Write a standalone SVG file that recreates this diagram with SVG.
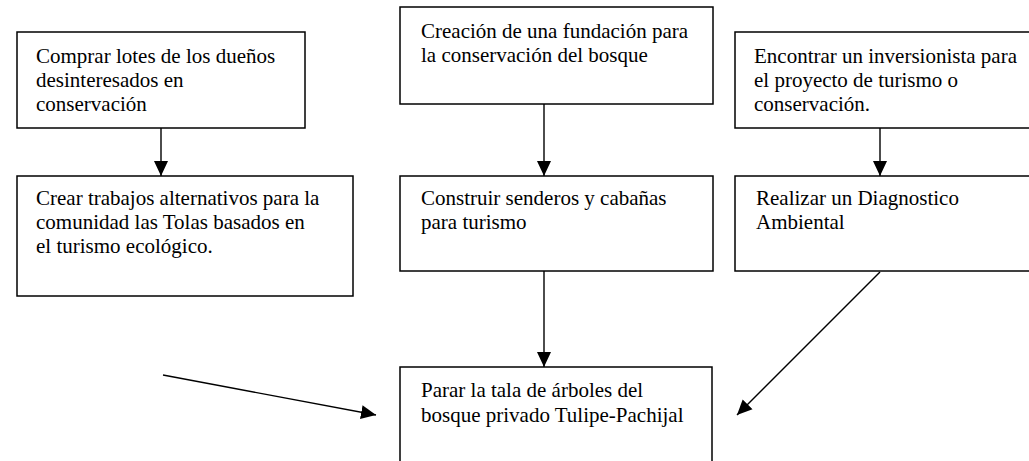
<svg xmlns="http://www.w3.org/2000/svg" width="1029" height="461" viewBox="0 0 1029 461">
<style>
.box{fill:#fff;stroke:#000;stroke-width:1.5}
.t{font-family:"Liberation Serif","Times New Roman",serif;font-size:21px;fill:#000}
.c{stroke:#000;stroke-width:1.4;fill:none;marker-end:url(#ah)}
</style>
<defs>
<marker id="ah" markerUnits="userSpaceOnUse" markerWidth="16" markerHeight="16" viewBox="0 0 16 16" refX="15" refY="8" orient="auto">
<path d="M0,1 L15,8 L0,15 Z" fill="#000"/>
</marker>
</defs>
<rect width="1029" height="461" fill="#fff"/>
<g id="connectors">
<line class="c" x1="161" y1="128" x2="161" y2="176"/>
<line class="c" x1="544" y1="104" x2="544" y2="176"/>
<line class="c" x1="880" y1="128" x2="880" y2="176"/>
<line class="c" x1="544" y1="271" x2="544" y2="367"/>
<line class="c" x1="163" y1="375" x2="376" y2="415"/>
<line class="c" x1="880" y1="272" x2="737" y2="415"/>
</g>
<g id="n1">
<rect class="box" x="17" y="32" width="288" height="96"/>
<text class="t" x="36" y="63">Comprar lotes de los dueños</text>
<text class="t" x="36" y="87">desinteresados en</text>
<text class="t" x="36" y="111">conservación</text>
</g>
<g id="n2">
<rect class="box" x="17" y="176" width="336" height="120"/>
<text class="t" x="36" y="205">Crear trabajos alternativos para la</text>
<text class="t" x="36" y="229">comunidad las Tolas basados en</text>
<text class="t" x="36" y="253">el turismo ecológico.</text>
</g>
<g id="n3">
<rect class="box" x="400" y="7" width="313" height="97"/>
<text class="t" x="421" y="38">Creación de una fundación para</text>
<text class="t" x="421" y="62">la conservación del bosque</text>
</g>
<g id="n4">
<rect class="box" x="400" y="176" width="313" height="95"/>
<text class="t" x="421" y="205">Construir senderos y cabañas</text>
<text class="t" x="421" y="229">para turismo</text>
</g>
<g id="n5">
<rect class="box" x="735" y="32" width="310" height="96"/>
<text class="t" x="754" y="63">Encontrar un inversionista para</text>
<text class="t" x="754" y="87">el proyecto de turismo o</text>
<text class="t" x="754" y="111">conservación.</text>
</g>
<g id="n6">
<rect class="box" x="735" y="176" width="310" height="95"/>
<text class="t" x="756" y="205">Realizar un Diagnostico</text>
<text class="t" x="756" y="229">Ambiental</text>
</g>
<g id="n7">
<rect class="box" x="400" y="367" width="312" height="110"/>
<text class="t" x="421" y="397">Parar la tala de árboles del</text>
<text class="t" x="421" y="422">bosque privado Tulipe-Pachijal</text>
</g>
</svg>
